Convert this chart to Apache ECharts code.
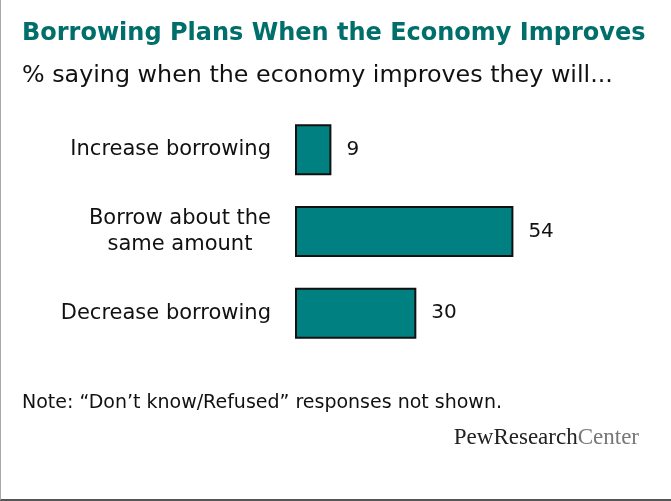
<!DOCTYPE html>
<html>
<head>
<meta charset="utf-8">
<script src="https://cdn.jsdelivr.net/npm/echarts@6/dist/echarts.min.js"></script>
<style>
  html, body { margin: 0; padding: 0; background: #fff; }
  #chart {
    width: 670px; height: 499px;
    border-left: 1px solid #a8a8a8;
    border-bottom: 2px solid #555;
  }
</style>
</head>
<body>
<div id="chart"></div>
<script>
// Survey answers, top to bottom
const categories = ['Increase borrowing', 'Borrow about the\nsame amount', 'Decrease borrowing'];
const percents = [9, 54, 30];

const FONT = 'DejaVu Sans';
const TEAL = '#008080';

const chart = echarts.init(document.getElementById('chart'));

chart.setOption({
  animation: false,
  backgroundColor: '#fff',
  title: [
    {
      text: 'Borrowing Plans When the Economy Improves',
      left: 16, top: 17,
      textStyle: { fontFamily: FONT, fontSize: 24, fontWeight: 'bold', color: '#006e6b' }
    },
    {
      text: '% saying when the economy improves they will...',
      left: 16, top: 59,
      textStyle: { fontFamily: FONT, fontSize: 23.8, fontWeight: 'normal', color: '#111' }
    },
    {
      text: 'Note: \u201cDon\u2019t know/Refused\u201d responses not shown.',
      left: 16, top: 389,
      textStyle: { fontFamily: FONT, fontSize: 19, fontWeight: 'normal', color: '#111' }
    },
    {
      text: '{a|PewResearch}{b|Center}',
      right: 27, top: 421,
      textStyle: {
        rich: {
          a: { fontFamily: 'Liberation Serif', fontSize: 23, fontWeight: 'normal', color: '#222' },
          b: { fontFamily: 'Liberation Serif', fontSize: 23, fontWeight: 'normal', color: '#777' }
        }
      }
    }
  ],
  grid: { left: 294, top: 109, width: 364, height: 245 },
  xAxis: {
    type: 'value', min: 0, max: 90,
    show: false
  },
  yAxis: {
    type: 'category',
    data: categories,
    inverse: true,
    axisLine: { show: false },
    axisTick: { show: false },
    axisLabel: {
      margin: 24,
      align: 'right',
      formatter: v => '{c|' + v + '}',
      rich: {
        c: { fontFamily: FONT, fontSize: 21, color: '#111', align: 'center', lineHeight: 26 }
      }
    }
  },
  series: [{
    type: 'bar',
    data: percents,
    barWidth: 51,
    itemStyle: { color: TEAL, borderColor: '#111', borderWidth: 2 },
    label: {
      show: true, position: 'right', distance: 15,
      fontFamily: FONT, fontSize: 20, color: '#111'
    }
  }]
});
</script>
</body>
</html>
